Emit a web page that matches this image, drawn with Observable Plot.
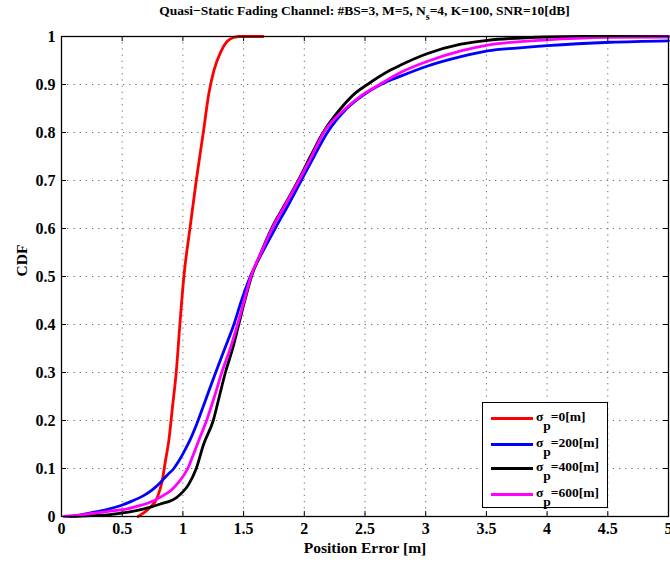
<!DOCTYPE html>
<html><head><meta charset="utf-8">
<script src="https://cdn.jsdelivr.net/npm/d3@7"></script>
<script src="https://cdn.jsdelivr.net/npm/@observablehq/plot@0.6"></script>
<style>
body{margin:0;background:#fff;}
#wrap{position:relative;width:670px;height:562px;font-family:"Liberation Serif","Times New Roman",serif;color:#000;}
#title{position:absolute;left:61px;width:607px;top:3px;text-align:center;font-weight:bold;font-size:13.5px;white-space:nowrap;}
#title sub{font-size:10px;vertical-align:-5px;line-height:0;}
#legend{position:absolute;left:482px;top:402px;width:124px;height:104px;border:1.3px solid #000;background:#fff;}
.sw{position:absolute;left:8px;width:42px;height:3px;}
.lab{position:absolute;left:53px;font-weight:bold;font-size:13.5px;white-space:nowrap;line-height:13px;}
.lab sub{font-size:13.5px;vertical-align:-9px;line-height:0;}
</style></head>
<body><div id="wrap"><div id="title">Quasi−Static Fading Channel: #BS=3, M=5, N<sub>s</sub>=4, K=100, SNR=10[dB]</div></div>
<script>
// ---- data ----
const seriesNames = ["0", "200", "400", "600"];
const seriesColors = ["#ff0000", "#0000ff", "#000000", "#ff00ff"];

const redX = [0.63,0.68,0.73,0.79,0.83,0.857,0.884,0.915,0.945,0.975,1.008,1.058,1.11,1.168,1.213,1.255,1.31,1.365,1.42,1.47,1.66];
const redY = [0,0.008,0.019,0.04,0.075,0.117,0.158,0.23,0.30,0.40,0.50,0.60,0.70,0.80,0.88,0.929,0.967,0.99,0.998,1,1];

const blueX = [0.03,0.15,0.27,0.38,0.49,0.58,0.68,0.75,0.815,0.87,0.925,0.97,1.01,1.06,1.11,1.19,1.27,1.345,1.42,1.48,1.555,1.65,1.76,1.87,1.975,2.08,2.19,2.35,2.48,2.63,2.8,3.01,3.29,3.51,3.75,4.0,4.52,5.0];
const blueY = [0,0.003,0.009,0.015,0.023,0.032,0.044,0.056,0.071,0.086,0.10,0.117,0.135,0.16,0.19,0.245,0.30,0.35,0.40,0.448,0.50,0.548,0.60,0.65,0.70,0.75,0.80,0.85,0.877,0.90,0.918,0.938,0.958,0.97,0.976,0.981,0.988,0.991];

const blackX = [0.07,0.25,0.40,0.55,0.68,0.815,0.95,1.05,1.11,1.17,1.25,1.30,1.35,1.41,1.46,1.51,1.565,1.64,1.73,1.84,1.95,2.05,2.155,2.30,2.42,2.52,2.71,2.79,3.01,3.29,3.51,4.0,4.3,5.0];
const blackY = [0,0.002,0.004,0.009,0.016,0.026,0.04,0.068,0.10,0.15,0.20,0.25,0.30,0.35,0.40,0.45,0.50,0.548,0.60,0.65,0.70,0.75,0.80,0.85,0.882,0.90,0.93,0.94,0.964,0.984,0.992,0.999,1.0,1.0];

const magentaX = [0.02,0.15,0.27,0.40,0.54,0.65,0.76,0.84,0.90,0.96,1.04,1.08,1.13,1.195,1.26,1.32,1.39,1.45,1.505,1.56,1.645,1.735,1.845,1.955,2.06,2.16,2.34,2.47,2.62,2.8,3.01,3.29,3.51,4.0,4.52,5.0];
const magentaY = [0,0.003,0.007,0.011,0.016,0.023,0.033,0.044,0.054,0.07,0.10,0.125,0.158,0.20,0.25,0.30,0.35,0.40,0.45,0.50,0.55,0.60,0.65,0.70,0.75,0.80,0.85,0.877,0.90,0.926,0.948,0.97,0.982,0.993,0.998,0.999];

const xTicks = [0,0.5,1,1.5,2,2.5,3,3.5,4,4.5,5];
const yTicks = [0,0.1,0.2,0.3,0.4,0.5,0.6,0.7,0.8,0.9,1];

const xLabel = "Position Error [m]";
const yLabel = "CDF";

// ---- build ----
const allX = [redX, blueX, blackX, magentaX];
const allY = [redY, blueY, blackY, magentaY];
const data = seriesNames.flatMap((s, k) => allX[k].map((x, i) => ({x, y: allY[k][i], s})));

const W = 670, H = 562, mT = 36, mB = 46, mL = 61, mR = 2;
const fw = W - mL - mR, fh = H - mT - mB;
const fmt = d => String(+d.toFixed(1));
const gridStyle = {stroke: "#555", strokeOpacity: 0.9, strokeDasharray: "1.2,5", strokeWidth: 1};

const plot = Plot.plot({
  width: W, height: H, marginTop: mT, marginBottom: mB, marginLeft: mL, marginRight: mR,
  style: {fontFamily: '"Liberation Serif","Times New Roman",serif', fontSize: "16px", fontWeight: "bold", color: "#000", background: "#fff", overflow: "visible"},
  x: {domain: [0, 5], label: null},
  y: {domain: [0, 1], label: null},
  color: {domain: seriesNames, range: seriesColors},
  marks: [
    Plot.gridX(xTicks, gridStyle),
    Plot.gridY(yTicks, gridStyle),
    Plot.line(data, {x: "x", y: "y", z: "s", stroke: "s", strokeWidth: 2.8, curve: "monotone-x"}),
    Plot.tickX(xTicks, {x: d => d, insetTop: fh - 5, stroke: "#000", strokeWidth: 1}),
    Plot.tickX(xTicks, {x: d => d, insetBottom: fh - 5, stroke: "#000", strokeWidth: 1}),
    Plot.tickY(yTicks, {y: d => d, insetRight: fw - 5, stroke: "#000", strokeWidth: 1}),
    Plot.tickY(yTicks, {y: d => d, insetLeft: fw - 5, stroke: "#000", strokeWidth: 1}),
    Plot.axisX(xTicks, {tickSize: 0, tickPadding: 6, tickFormat: fmt, label: null, fontSize: 16, fontWeight: "bold"}),
    Plot.axisY(yTicks, {tickSize: 0, tickPadding: 6, tickFormat: fmt, label: null, fontSize: 16, fontWeight: "bold"}),
    Plot.frame({stroke: "#000", strokeWidth: 1.3}),
    Plot.text([xLabel], {frameAnchor: "bottom", dy: 36, fontSize: 15.5, fontWeight: "bold", fill: "#000"}),
    Plot.text([yLabel], {frameAnchor: "left", dx: -39, rotate: -90, fontSize: 15.5, fontWeight: "bold", fill: "#000"})
  ]
});
const wrap = document.getElementById("wrap");
wrap.insertBefore(plot, wrap.firstChild);

// legend
const leg = document.createElement("div");
leg.id = "legend";
const rowCenters = [15, 41, 65, 91];
seriesNames.forEach((n, i) => {
  const sw = document.createElement("div");
  sw.className = "sw";
  sw.style.top = (rowCenters[i] - 1.5) + "px";
  sw.style.background = seriesColors[i];
  leg.appendChild(sw);
  const lab = document.createElement("div");
  lab.className = "lab";
  lab.style.top = (rowCenters[i] - 8) + "px";
  lab.innerHTML = "σ<sub>p</sub>=" + n + "[m]";
  leg.appendChild(lab);
});
wrap.appendChild(leg);
</script>
</body></html>
